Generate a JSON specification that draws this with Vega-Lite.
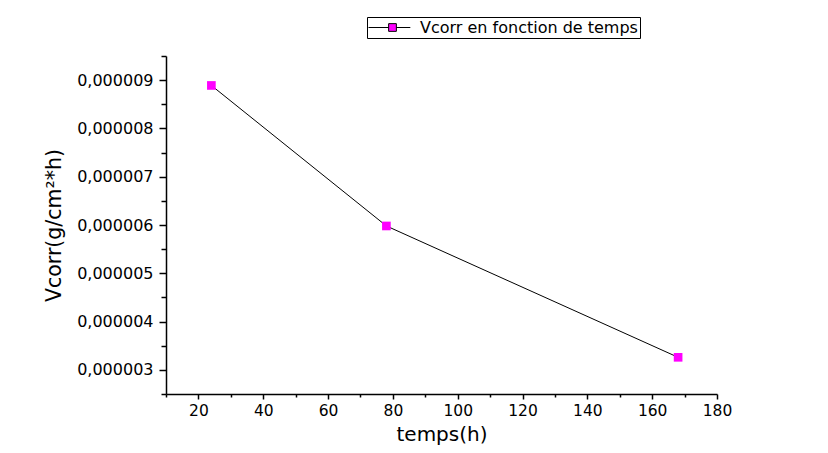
{
  "$schema": "https://vega.github.io/schema/vega-lite/v6.json",
  "autosize": {"type": "none"},
  "width": 551,
  "height": 338,
  "padding": {"left": 166, "top": 56, "right": 111, "bottom": 59},
  "background": "white",
  "config": {
    "view": {"stroke": null},
    "font": "DejaVu Sans",
    "axis": {
      "domainColor": "black",
      "domainWidth": 1.5,
      "tickColor": "black",
      "tickWidth": 1.5,
      "grid": false,
      "labelColor": "black",
      "titleColor": "black",
      "labelFont": "DejaVu Sans",
      "titleFont": "DejaVu Sans",
      "titleFontWeight": "normal",
      "labelFlush": false,
      "labelOverlap": false
    }
  },
  "data": {
    "values": [
      {"temps": 24, "vcorr": 0.00000889, "serie": "Vcorr en fonction de temps"},
      {"temps": 78, "vcorr": 0.00000598, "serie": "Vcorr en fonction de temps"},
      {"temps": 168, "vcorr": 0.00000326, "serie": "Vcorr en fonction de temps"}
    ]
  },
  "encoding": {
    "x": {
      "field": "temps",
      "type": "quantitative",
      "scale": {"domain": [10, 180], "nice": false, "zero": false},
      "axis": {
        "title": "temps(h)",
        "titleFontSize": 20,
        "titlePadding": 6,
        "values": [10, 20, 30, 40, 50, 60, 70, 80, 90, 100, 110, 120, 130, 140, 150, 160, 170, 180],
        "labelExpr": "datum.value % 20 == 0 ? datum.label : ''",
        "labelFontSize": 15.5,
        "labelPadding": 4,
        "tickSize": {"condition": {"test": "datum.value % 20 == 0", "value": 5}, "value": 3}
      }
    },
    "y": {
      "field": "vcorr",
      "type": "quantitative",
      "scale": {"domain": [0.0000025, 0.0000095], "nice": false, "zero": false},
      "axis": {
        "title": "Vcorr(g/cm²*h)",
        "titleFontSize": 20.5,
        "titlePadding": 12,
        "values": [0.0000025, 0.000003, 0.0000035, 0.000004, 0.0000045, 0.000005, 0.0000055, 0.000006, 0.0000065, 0.000007, 0.0000075, 0.000008, 0.0000085, 0.000009, 0.0000095],
        "labelExpr": "round(datum.value * 2000000) % 2 == 0 ? replace(format(datum.value, '.6f'), '.', ',') : ''",
        "labelFontSize": 16,
        "labelPadding": 6,
        "tickSize": {"condition": {"test": "round(datum.value * 2000000) % 2 == 0", "value": 7}, "value": 5}
      }
    }
  },
  "layer": [
    {
      "mark": {"type": "line", "color": "black", "strokeWidth": 1}
    },
    {
      "mark": {"type": "point", "shape": "square", "filled": true, "opacity": 1, "size": 75},
      "encoding": {
        "fill": {
          "field": "serie",
          "type": "nominal",
          "scale": {"range": ["#ff00ff"]},
          "legend": {
            "title": null,
            "orient": "none",
            "legendX": 201,
            "legendY": -39,
            "strokeColor": "black",
            "fillColor": "white",
            "padding": 2,
            "symbolType": "M-3.1,0H-0.5M0.5,0H2.3M-0.5,-0.5H0.5V0.5H-0.5Z",
            "symbolSize": 240,
            "symbolStrokeColor": "black",
            "symbolStrokeWidth": 1,
            "symbolOffset": 15,
            "labelOffset": 19,
            "labelFontSize": 16,
            "labelFont": "DejaVu Sans",
            "labelColor": "black",
            "labelLimit": 400
          }
        }
      }
    }
  ]
}
